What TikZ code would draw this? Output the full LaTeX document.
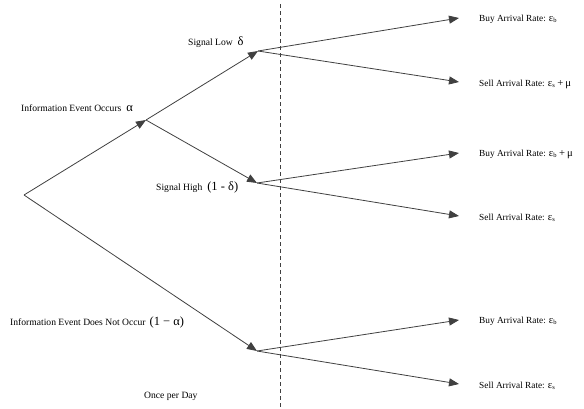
\documentclass[tikz,border=0pt]{standalone}
\usepackage{fontspec}
\setmainfont{Liberation Serif}
\usetikzlibrary{arrows.meta}
\tikzset{
  branch/.style={draw=black!75, line width=0.8pt, -{Triangle[length=10pt,width=8pt]}},
  lbl/.style={font=\fontsize{9.6}{11}\selectfont, inner sep=0pt, anchor=west},
  leaf/.style={font=\fontsize{9.3}{11}\selectfont, inner sep=0pt, anchor=west}
}
\newcommand{\gbig}[1]{{\fontsize{12.5}{14}\selectfont #1}}
\newcommand{\gmid}[1]{{\fontsize{10.6}{13}\selectfont #1}}
\begin{document}
\begin{tikzpicture}[x=1pt,y=-1pt]
\useasboundingbox (0,0) rectangle (584,408);
\draw[black!75, line width=0.6pt, dash pattern=on 4pt off 3pt] (280,4) -- (280,408);
\coordinate (R) at (24,195);
\coordinate (A) at (146,120);
\coordinate (B) at (257,351);
\coordinate (L) at (258,51);
\coordinate (H) at (257,183);
\coordinate (b1) at (459,18);
\coordinate (s1) at (459,82);
\coordinate (b2) at (459,153);
\coordinate (s2) at (459,216);
\coordinate (b3) at (459,320);
\coordinate (s3) at (459,384);
\draw[branch] (R) -- (A);
\draw[branch] (R) -- (B);
\draw[branch] (A) -- (L);
\draw[branch] (A) -- (H);
\draw[branch] (L) -- (b1);
\draw[branch] (L) -- (s1);
\draw[branch] (H) -- (b2);
\draw[branch] (H) -- (s2);
\draw[branch] (B) -- (b3);
\draw[branch] (B) -- (s3);
\node[lbl] (tA) at (21,108) {Information Event Occurs\hspace{5pt}\gbig{α}};
\node[lbl] (tL) at (188,42) {Signal Low\hspace{5pt}\gbig{δ}};
\node[lbl] (tH) at (156,187) {Signal High\hspace{5pt}\gbig{(1 - δ)}};
\node[lbl] (tB) at (10,322) {Information Event Does Not Occur\hspace{4pt}\gbig{(1 − α)}};
\node[lbl] (tD) at (144,396) {Once per Day};
\node[leaf] (lb1) at (479,19) {Buy Arrival Rate: \gmid{ε}\textsubscript{b}};
\node[leaf] (ls1) at (479,84) {Sell Arrival Rate: \gmid{ε}\textsubscript{s}\hspace{2pt}\gmid{+\hspace{2pt}μ}};
\node[leaf] (lb2) at (479,154) {Buy Arrival Rate: \gmid{ε}\textsubscript{b}\hspace{2pt}\gmid{+\hspace{2pt}μ}};
\node[leaf] (ls2) at (479,218) {Sell Arrival Rate: \gmid{ε}\textsubscript{s}};
\node[leaf] (lb3) at (479,321) {Buy Arrival Rate: \gmid{ε}\textsubscript{b}};
\node[leaf] (ls3) at (479,386) {Sell Arrival Rate: \gmid{ε}\textsubscript{s}};
\end{tikzpicture}
\end{document}
